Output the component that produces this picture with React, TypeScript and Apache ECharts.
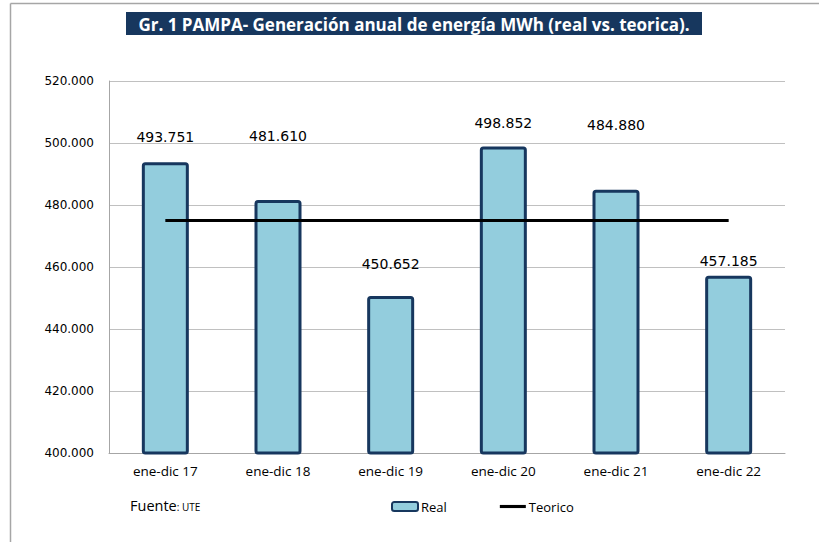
import React, { useEffect, useRef } from "react";
import * as echarts from "echarts";

const categories = ["ene-dic 17", "ene-dic 18", "ene-dic 19", "ene-dic 20", "ene-dic 21", "ene-dic 22"];
const realValues = [493751, 481610, 450652, 498852, 484880, 457185];
const teoricoValues = [475000, 475000, 475000, 475000, 475000, 475000];
const yMin = 400000;
const yMax = 520000;
const yInterval = 20000;

const titleText = "Gr. 1 PAMPA- Generación anual de energía MWh (real vs. teorica).";

const fmt = (v: number) => {
  const s = Math.round(v).toString();
  return s.replace(/\B(?=(\d{3})+(?!\d))/g, ".");
};

export default function App() {
  const ref = useRef<HTMLDivElement>(null);
  useEffect(() => {
    if (!ref.current) return;
    const chart = echarts.init(ref.current, undefined, { renderer: "svg" });
    const labelDist = [18, 57, 25, 17, 58, 8];
    chart.setOption({
      animation: false,
      backgroundColor: "#ffffff",
      grid: { left: 109, right: 34, top: 81, bottom: 89, containLabel: false },
      graphic: [
        { type: "line", shape: { x1: 10.5, y1: 3.5, x2: 819, y2: 3.5 }, style: { stroke: "#a6a6a6", lineWidth: 1.5 } },
        { type: "line", shape: { x1: 10.5, y1: 3.5, x2: 10.5, y2: 542 }, style: { stroke: "#a6a6a6", lineWidth: 1.5 } },
        { type: "rect", shape: { x: 126, y: 12, width: 576, height: 23 }, style: { fill: "#17375e" } },
        {
          type: "text",
          x: 414,
          y: 24,
          style: {
            text: titleText,
            fill: "#ffffff",
            font: "bold 17px 'Open Sans'",
            align: "center",
            verticalAlign: "middle",
          },
        },
        {
          type: "text",
          x: 130,
          y: 505,
          style: {
            text: "{a|Fuente}{b|: UTE}",
            verticalAlign: "middle",
            rich: {
              a: { fontFamily: "Open Sans", fontSize: 14.5, fill: "#000", color: "#000" },
              b: { fontFamily: "Open Sans", fontSize: 10, fill: "#000", color: "#000", padding: [3, 0, 0, 0] },
            },
          },
        },
      ],
      legend: {
        left: 391,
        top: 500,
        padding: 0,
        itemWidth: 26,
        itemHeight: 9,
        itemGap: 53,
        textStyle: { fontFamily: "Open Sans", fontSize: 13, color: "#000", padding: [0, 0, 0, -2] },
        data: [
          { name: "Real", icon: "roundRect" },
          { name: "Teorico", icon: "path://M0 0H100V12H0Z", itemStyle: { color: "#000" } },
        ],
      },
      xAxis: {
        type: "category",
        data: categories,
        axisLine: { show: true, lineStyle: { color: "#a6a6a6", width: 1 } },
        axisTick: { show: false },
        axisLabel: { fontFamily: "Open Sans", fontSize: 13.5, color: "#000", margin: 11 },
        splitLine: { show: false },
      },
      yAxis: {
        type: "value",
        min: yMin,
        max: yMax,
        interval: yInterval,
        axisLine: { show: true, lineStyle: { color: "#a6a6a6", width: 1 } },
        axisTick: { show: false },
        axisLabel: {
          fontFamily: "DejaVu Sans",
          fontSize: 12,
          color: "#000",
          margin: 15,
          formatter: (v: number) => fmt(v),
        },
        splitLine: { show: true, lineStyle: { color: "#c0c0c0", width: 1 } },
      },
      series: [
        {
          name: "Real",
          type: "bar",
          barWidth: 47,
          data: realValues.map((v, i) => ({
            value: v,
            label: { distance: labelDist[i] },
          })),
          itemStyle: { color: "#93cddd", borderColor: "#17375e", borderWidth: 3, borderRadius: 2 },
          label: {
            show: true,
            position: "top",
            fontFamily: "DejaVu Sans",
            fontSize: 14,
            color: "#000",
            formatter: (p: any) => fmt(p.value),
          },
          z: 2,
        },
        {
          name: "Teorico",
          type: "line",
          data: teoricoValues,
          symbol: "none",
          showSymbol: false,
          lineStyle: { color: "#000", width: 3 },
          itemStyle: { color: "#000" },
          z: 3,
        },
      ],
    });
    return () => chart.dispose();
  }, []);
  return <div ref={ref} style={{ position: "fixed", left: 0, top: 0, width: 819, height: 542 }} />;
}
